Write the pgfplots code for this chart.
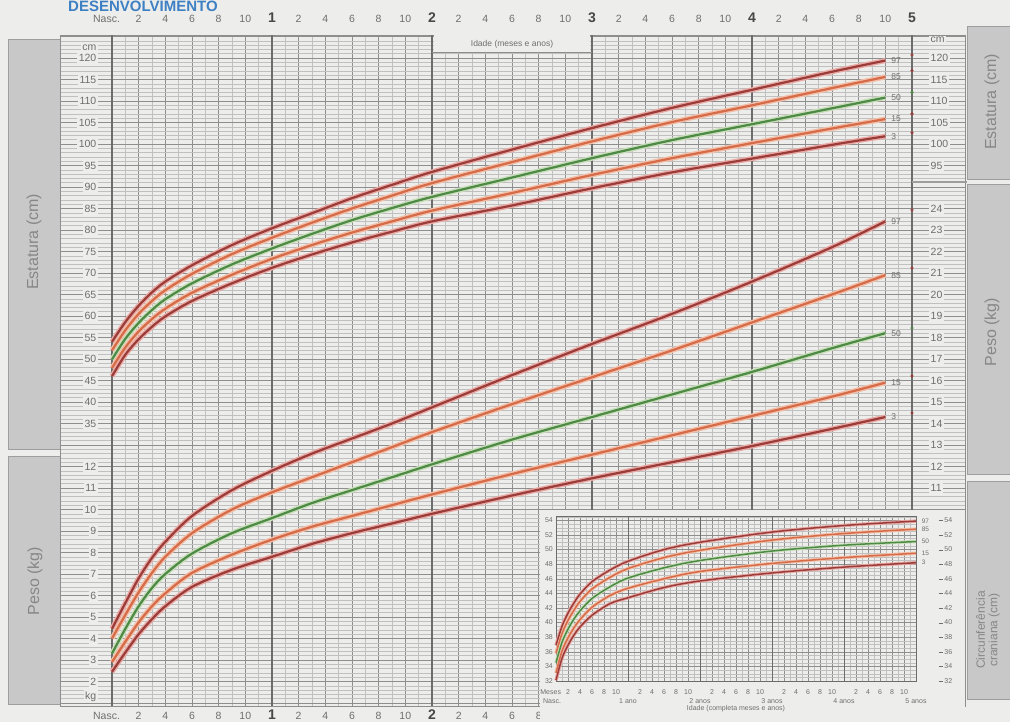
\documentclass[border=0pt]{standalone}
\usepackage{pgfplots}
\pgfplotsset{compat=1.18}
\usepackage{pgfplotstable}
\usepackage{fontspec}
\setmainfont{Liberation Sans}

\definecolor{paper}{HTML}{EDEDEB}
\definecolor{gmaj}{HTML}{8E8E8E}
\definecolor{gmin}{HTML}{C0C0C0}
\definecolor{gyear}{HTML}{6C6C6C}
\definecolor{lbl}{HTML}{6E6E6E}
\definecolor{boxfill}{HTML}{C8C8C8}
\definecolor{boxline}{HTML}{9E9E9E}
\definecolor{boxtext}{HTML}{878787}
\definecolor{cdark}{HTML}{9A3D3A}
\definecolor{cdarkh}{HTML}{EAA8A3}
\definecolor{corange}{HTML}{D56B48}
\definecolor{corangeh}{HTML}{F3BEA7}
\definecolor{cgreen}{HTML}{4C8A46}
\definecolor{cgreenh}{HTML}{C8DDB8}
\definecolor{titleblue}{HTML}{3E80C4}

\pgfplotstableread{
m p3 p15 p50 p85 p97
0 46.0 47.9 49.9 52.0 54.0
1 51.0 52.7 54.7 56.7 58.6
2 54.6 56.4 58.4 60.5 62.4
3 57.5 59.3 61.4 63.5 65.5
4 59.9 61.7 63.9 66.0 68.0
6 63.5 65.4 67.6 69.8 71.8
9 67.6 69.6 72.0 74.4 76.5
12 71.2 73.3 75.7 78.2 80.4
15 74.3 76.5 79.1 81.7 83.9
18 77.1 79.4 82.3 85.0 87.4
21 79.6 82.0 85.1 88.0 90.5
24 82.0 84.5 87.7 90.9 93.5
30 85.7 88.6 92.2 95.8 98.7
36 89.7 92.8 96.7 100.6 103.7
42 93.4 96.7 100.9 105.1 108.4
48 96.6 100.2 104.6 109.0 112.6
54 99.8 103.6 108.3 113.0 116.8
58 101.8 105.8 110.8 115.6 119.4
}\heighttab

\pgfplotstableread{
m p3 p15 p50 p85 p97
0 2.45 2.9 3.3 4.0 4.45
1 3.35 3.85 4.45 5.1 5.65
2 4.2 4.75 5.5 6.15 6.8
3 4.9 5.5 6.35 7.05 7.75
4 5.5 6.1 7.0 7.8 8.5
6 6.4 7.05 7.95 8.9 9.7
9 7.2 7.9 8.9 10.0 10.9
12 7.8 8.6 9.6 10.8 11.8
15 8.4 9.2 10.3 11.5 12.6
18 8.9 9.7 10.9 12.2 13.3
21 9.35 10.2 11.5 12.9 14.0
24 9.8 10.7 12.1 13.6 14.75
30 10.65 11.65 13.25 14.9 16.25
36 11.45 12.55 14.3 16.15 17.7
42 12.2 13.45 15.35 17.4 19.1
48 12.95 14.35 16.4 18.7 20.6
54 13.75 15.25 17.5 20.0 22.2
58 14.3 15.9 18.2 20.9 23.4
}\weighttab

\pgfplotstableread{
m p3 p15 p50 p85 p97
0 32.1 33.1 34.5 35.8 36.9
1 35.1 36.1 37.3 38.5 39.5
2 36.9 37.9 39.1 40.3 41.3
3 38.3 39.3 40.5 41.7 42.7
4 39.4 40.4 41.6 42.9 43.9
6 41.0 42.1 43.3 44.6 45.6
9 42.6 43.7 44.9 46.2 47.2
12 43.4 44.7 46.1 47.4 48.4
18 44.8 46.0 47.5 48.9 50.0
24 45.7 47.0 48.5 49.9 51.0
36 46.8 48.1 49.8 51.3 52.4
48 47.6 48.9 50.6 52.2 53.3
60 48.2 49.5 51.1 52.8 53.9
}\headtab

\newcommand{\yr}[1]{\fontsize{14}{14}\selectfont\bfseries\color{black!72}#1}
\newcommand{\nasc}{\makebox[0pt][r]{Nasc.\hspace{-8pt}}}

\tikzset{
  plab/.style={anchor=west, xshift=4pt, font=\fontsize{8.5}{9}\selectfont, text=lbl, inner sep=1pt},
  plabs/.style={plab, font=\fontsize{6.5}{7}\selectfont},
}

\pgfplotsset{
  base/.style={at={(60pt,16pt)}, anchor=south west, scale only axis,
    width=905pt, height=671pt, xmin=-3.9, xmax=63.975, clip=false,
    axis line style={draw=none}, major tick length=0pt, minor tick length=0pt,
    tick style={draw=none},
    /pgf/number format/assume math mode=true,
    tick label style={font=\fontsize{10.5}{11}\selectfont, text=lbl}},
  hax/.style={base, ymin=-30.7, ymax=125.35},
  wax/.style={base, ymin=0.86, ymax=32.07},
  hdark/.style={draw=cdarkh, line width=5pt, smooth, no marks},
  ldark/.style={draw=cdark, line width=2.2pt, smooth, no marks},
  horange/.style={draw=corangeh, line width=5pt, smooth, no marks},
  lorange/.style={draw=corange, line width=2.2pt, smooth, no marks},
  hgreen/.style={draw=cgreenh, line width=5pt, smooth, no marks},
  lgreen/.style={draw=cgreen, line width=2.2pt, smooth, no marks},
  leftlab/.style={yticklabel style={anchor=east, xshift=38pt, fill=paper, inner sep=1.5pt}},
  rightlab/.style={yticklabel pos=right, yticklabel style={anchor=west, xshift=-36pt, fill=paper, inner sep=1.5pt}},
}

\begin{document}
\begin{tikzpicture}
\useasboundingbox (0pt,0pt) rectangle (1010pt,722pt);
\fill[paper] (0pt,0pt) rectangle (1010pt,722pt);

% title
\node[anchor=base west, text=titleblue, font=\fontsize{15}{15}\selectfont\bfseries, inner sep=0pt]
  at (68pt,710.5pt) {DESENVOLVIMENTO};

% grey side boxes
\filldraw[fill=boxfill, draw=boxline, line width=1pt] (8pt,272pt) rectangle (60pt,682pt);
\filldraw[fill=boxfill, draw=boxline, line width=1pt] (8pt,17pt) rectangle (60pt,265pt);
\filldraw[fill=boxfill, draw=boxline, line width=1pt] (967pt,542pt) rectangle (1015pt,695pt);
\filldraw[fill=boxfill, draw=boxline, line width=1pt] (967pt,247pt) rectangle (1015pt,537pt);
\filldraw[fill=boxfill, draw=boxline, line width=1pt] (967pt,22pt) rectangle (1015pt,240pt);
\node[rotate=90, text=boxtext, font=\fontsize{16}{16}\selectfont] at (34pt,480pt) {Estatura (cm)};
\node[rotate=90, text=boxtext, font=\fontsize{16}{16}\selectfont] at (35pt,141pt) {Peso (kg)};
\node[rotate=90, text=boxtext, font=\fontsize{16}{16}\selectfont] at (992pt,620pt) {Estatura (cm)};
\node[rotate=90, text=boxtext, font=\fontsize{16}{16}\selectfont] at (992pt,390pt) {Peso (kg)};
\node[rotate=90, text=boxtext, font=\fontsize{12}{12.5}\selectfont, align=center] at (988pt,92pt) {Circunferência\\craniana (cm)};

% ---------- grid axis with top age labels ----------
\begin{axis}[hax,
  axis line style={draw=gmaj, line width=0.8pt},
  xtick={0,2,...,60}, minor xtick={1,3,...,59},
  ytick={-30,-25,...,125}, minor ytick={-30,-29,...,125},
  yticklabel=\empty,
  grid=both,
  major grid style={draw=gmaj, line width=0.7pt},
  minor grid style={draw=gmin, line width=0.45pt},
  extra x ticks={0,12,24,36,48,60},
  extra x tick labels={,,,,,},
  extra x tick style={major grid style={draw=gyear, line width=1.15pt}},
  xticklabel pos=upper,
  xticklabel style={anchor=base, yshift=12pt},
  xticklabels={\nasc,2,4,6,8,10,\yr{1},2,4,6,8,10,\yr{2},2,4,6,8,10,\yr{3},2,4,6,8,10,\yr{4},2,4,6,8,10,\yr{5}},
]
\end{axis}

% ---------- height (left labels + curves) ----------
\begin{axis}[hax, leftlab, xtick=\empty,
  ytick={35,40,...,120},
  extra y ticks={122.4}, extra y tick labels={cm},
]
\fill[paper] (axis cs:24.12,121.45) rectangle (axis cs:35.88,125.3);
\draw[gmaj, line width=0.7pt] (axis cs:24,121.4) -- (axis cs:36,121.4);
\node[text=lbl, font=\fontsize{8.5}{9}\selectfont] at (axis cs:30,123.3) {Idade (meses e anos)};
\addplot[hdark] table[x=m,y=p97] {\heighttab};
\addplot[horange] table[x=m,y=p85] {\heighttab};
\addplot[hgreen] table[x=m,y=p50] {\heighttab};
\addplot[horange] table[x=m,y=p15] {\heighttab};
\addplot[hdark] table[x=m,y=p3] {\heighttab};
\addplot[ldark] table[x=m,y=p97] {\heighttab} node[pos=1,plab] {97};
\addplot[lorange] table[x=m,y=p85] {\heighttab} node[pos=1,plab] {85};
\addplot[lgreen] table[x=m,y=p50] {\heighttab} node[pos=1,plab] {50};
\addplot[lorange] table[x=m,y=p15] {\heighttab} node[pos=1,plab] {15};
\addplot[ldark] table[x=m,y=p3] {\heighttab} node[pos=1,plab] {3};
\addplot[only marks, mark=*, mark size=1.4pt, cdark] coordinates {(60,120.7) (60,117.1) (60,107.0) (60,102.6)};
\addplot[only marks, mark=*, mark size=1.4pt, cgreen] coordinates {(60,112.0)};
\end{axis}

% ---------- height (right labels) ----------
\begin{axis}[hax, rightlab, xtick=\empty,
  ytick={95,100,...,120},
  extra y ticks={124.2}, extra y tick labels={cm},
]
\end{axis}

% ---------- weight (left labels, bottom ages, curves) ----------
\begin{axis}[wax, leftlab,
  ytick={2,3,...,12},
  extra y ticks={1.3}, extra y tick labels={kg},
  xtick={0,2,...,32},
  xticklabel pos=lower,
  xticklabel style={anchor=base, yshift=-14pt},
  xticklabels={\nasc,2,4,6,8,10,\yr{1},2,4,6,8,10,\yr{2},2,4,6,8},
]
\addplot[hdark] table[x=m,y=p97] {\weighttab};
\addplot[horange] table[x=m,y=p85] {\weighttab};
\addplot[hgreen] table[x=m,y=p50] {\weighttab};
\addplot[horange] table[x=m,y=p15] {\weighttab};
\addplot[hdark] table[x=m,y=p3] {\weighttab};
\addplot[ldark] table[x=m,y=p97] {\weighttab} node[pos=1,plab] {97};
\addplot[lorange] table[x=m,y=p85] {\weighttab} node[pos=1,plab] {85};
\addplot[lgreen] table[x=m,y=p50] {\weighttab} node[pos=1,plab] {50};
\addplot[lorange] table[x=m,y=p15] {\weighttab} node[pos=1,plab] {15};
\addplot[ldark] table[x=m,y=p3] {\weighttab} node[pos=1,plab] {3};
\addplot[only marks, mark=*, mark size=1.3pt, cdark] coordinates {(60,23.93) (60,21.23) (60,16.21) (60,14.49)};
\addplot[only marks, mark=*, mark size=1.3pt, cgreen] coordinates {(60,18.44)};
\end{axis}

% ---------- weight (right labels) ----------
\begin{axis}[wax, rightlab, xtick=\empty,
  ytick={11,12,...,24},
]
\end{axis}

% separator in right column
\draw[boxline, line width=1.2pt] (912pt,540pt) -- (967pt,540pt);

% ---------- head circumference inset ----------
\fill[paper] (540pt,0pt) rectangle (965pt,212pt);
\begin{axis}[
  at={(556pt,41pt)}, anchor=south west, scale only axis, width=360pt, height=165pt,
  xmin=0, xmax=60, ymin=32, ymax=54.6, clip=false,
  axis line style={draw=gyear, line width=0.9pt},
  major tick length=0pt, minor tick length=0pt, tick style={draw=none},
  /pgf/number format/assume math mode=true,
  xtick={0,2,4,6,8,10,14,16,18,20,22,26,28,30,32,34,38,40,42,44,46,50,52,54,56,58},
  xticklabels={\makebox[0pt][r]{Meses\hspace{-5pt}},2,4,6,8,10,2,4,6,8,10,2,4,6,8,10,2,4,6,8,10,2,4,6,8,10},
  minor xtick={1,3,...,59},
  extra x ticks={0,12,24,36,48,60},
  extra x tick labels={\makebox[0pt][r]{Nasc.\hspace{-5pt}},1 ano,2 anos,3 anos,4 anos,5 anos},
  extra x tick style={major grid style={draw=gyear, line width=1pt}, xticklabel style={yshift=-9pt}},
  ytick={32,34,...,54}, minor ytick={32,32.5,...,54.5},
  grid=both,
  major grid style={draw=gmaj, line width=0.5pt},
  minor grid style={draw=gmin, line width=0.3pt},
  tick label style={font=\fontsize{7}{7}\selectfont, text=lbl},
  xticklabel style={anchor=base, yshift=-14pt},
  yticklabel style={inner sep=1pt, xshift=-2pt},
  xlabel={Idade (completa meses e anos)},
  xlabel style={at={(axis description cs:0.5,0)}, anchor=base, yshift=-30pt, font=\fontsize{7}{7}\selectfont, text=lbl},
]
\addplot[hdark, line width=3.4pt] table[x=m,y=p97] {\headtab};
\addplot[horange, line width=3.4pt] table[x=m,y=p85] {\headtab};
\addplot[hgreen, line width=3.4pt] table[x=m,y=p50] {\headtab};
\addplot[horange, line width=3.4pt] table[x=m,y=p15] {\headtab};
\addplot[hdark, line width=3.4pt] table[x=m,y=p3] {\headtab};
\addplot[ldark, line width=1.5pt] table[x=m,y=p97] {\headtab} node[pos=1,plabs] {97};
\addplot[lorange, line width=1.5pt] table[x=m,y=p85] {\headtab} node[pos=1,plabs] {85};
\addplot[lgreen, line width=1.5pt] table[x=m,y=p50] {\headtab} node[pos=1,plabs] {50};
\addplot[lorange, line width=1.5pt] table[x=m,y=p15] {\headtab} node[pos=1,plabs] {15};
\addplot[ldark, line width=1.5pt] table[x=m,y=p3] {\headtab} node[pos=1,plabs] {3};
\end{axis}
\begin{axis}[
  at={(556pt,41pt)}, anchor=south west, scale only axis, width=360pt, height=165pt,
  xmin=0, xmax=60, ymin=32, ymax=54.6,
  hide x axis, axis line style={draw=none},
  major tick length=0pt, tick style={draw=none},
  /pgf/number format/assume math mode=true,
  ytick={32,34,...,54}, yticklabel pos=right,
  yticklabel={\rule[0.5ex]{4pt}{0.5pt}\,\pgfmathprintnumber{\tick}},
  yticklabel style={anchor=west, xshift=22pt, font=\fontsize{7}{7}\selectfont, text=lbl, inner sep=1pt},
]
\end{axis}
\end{tikzpicture}
\end{document}
